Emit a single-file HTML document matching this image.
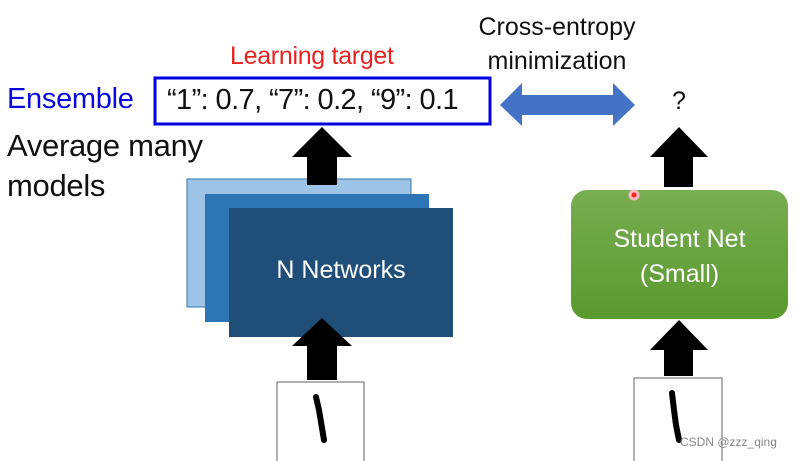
<!DOCTYPE html>
<html><head><meta charset="utf-8"><style>
body{margin:0;width:798px;height:461px;background:#fff;overflow:hidden;position:relative;font-family:"Liberation Sans",sans-serif}
.t{position:absolute;white-space:nowrap;letter-spacing:-0.3px}
.c{position:absolute;text-align:center;white-space:nowrap}
</style></head><body>
<svg width="798" height="461" style="position:absolute;left:0;top:0">
<rect x="187" y="179" width="224" height="128" fill="#9dc3e6" stroke="#2e75b6" stroke-width="1"/>
<rect x="205" y="194" width="224" height="128" fill="#2e75b6"/>
<rect x="229" y="208" width="224" height="129" fill="#1f4e79"/>
<rect x="155" y="78" width="335" height="46" fill="#fff" stroke="#0000e0" stroke-width="3"/>
<polygon points="322,127 352,157 337,157 337,185 307,185 307,157 292,157" fill="#000"/>
<polygon points="322,318 352,346 337,346 337,380 307,380 307,346 292,346" fill="#000"/>
<polygon points="679,127 708,157 693,157 693,187 664,187 664,157 650,157" fill="#000"/>
<polygon points="679,320 708,350 693,350 693,376 664,376 664,350 650,350" fill="#000"/>
<polygon points="500,105 522,83 522,95 613,95 613,83 635,105 613,126 613,115 522,115 522,126" fill="#4472c4"/>
<defs><linearGradient id="g" x1="0" y1="0" x2="0" y2="1"><stop offset="0" stop-color="#78ad52"/><stop offset="1" stop-color="#5a9a2e"/></linearGradient></defs>
<rect x="571" y="190" width="217" height="129" rx="16" fill="url(#g)"/>
<circle cx="634" cy="195" r="4" fill="#f22" stroke="#fbb" stroke-width="3"/>
<rect x="277" y="382" width="87" height="80" fill="#fff" stroke="#666"/>
<rect x="634" y="378" width="88" height="84" fill="#fff" stroke="#666"/>
<path d="M316 397 L319 410 L322 428 L324 440" stroke="#000" stroke-width="6" fill="none" stroke-linecap="round"/>
<path d="M672 393 L674 410 L676 425 L679 440" stroke="#000" stroke-width="6" fill="none" stroke-linecap="round"/>
</svg>
<div class="t" style="left:230px;top:42px;font-size:25px;color:#e8231f">Learning target</div>
<div class="c" style="left:457px;width:200px;top:10px;font-size:25px;color:#111;line-height:34px">Cross-entropy<br>minimization</div>
<div class="t" style="left:7px;top:83px;font-size:29px;color:#0a0adf">Ensemble</div>
<div class="t" style="left:167px;top:84px;font-size:29px;color:#111;letter-spacing:-0.6px">“1”: 0.7, “7”: 0.2, “9”: 0.1</div>
<div class="t" style="left:672px;top:87px;font-size:25px;color:#111">?</div>
<div class="t" style="left:7px;top:128px;font-size:31px;color:#111">Average many</div>
<div class="t" style="left:7px;top:168px;font-size:31px;color:#111">models</div>
<div class="c" style="left:229px;width:224px;top:256px;font-size:25px;color:#fff">N Networks</div>
<div class="c" style="left:571px;width:217px;top:222px;font-size:25px;color:#fff;line-height:35px">Student Net<br>(Small)</div>
<div class="t" style="left:680px;top:435px;font-size:12px;color:#888;letter-spacing:0">CSDN @zzz_qing</div>
</body></html>
